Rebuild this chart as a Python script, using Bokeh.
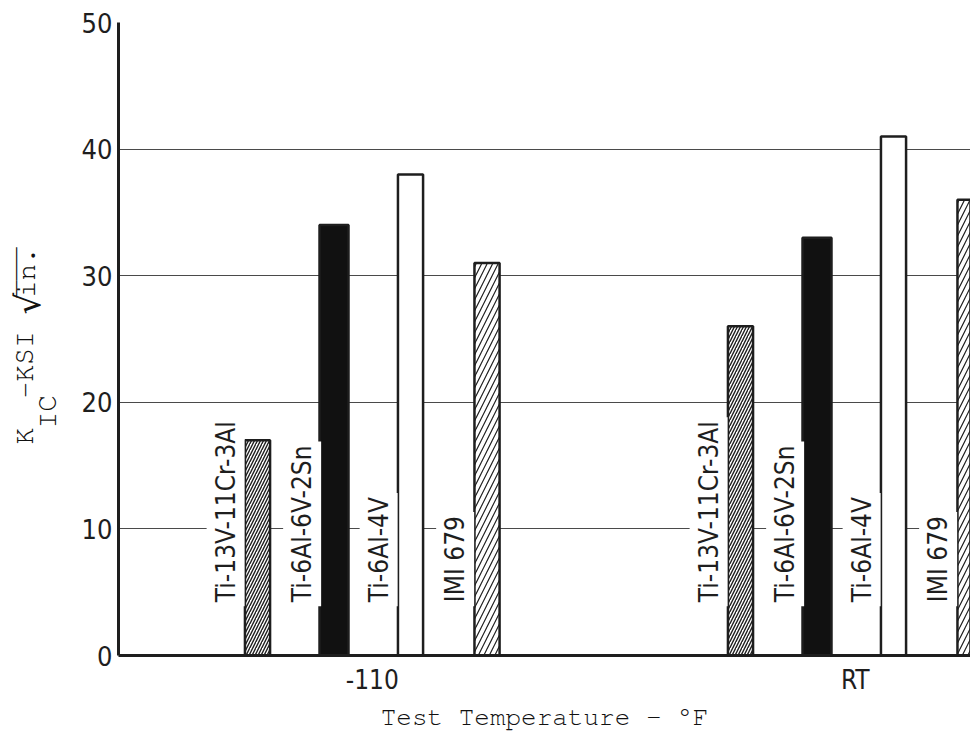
import math
from bokeh.plotting import figure
from bokeh.layouts import row
from bokeh.models import FixedTicker, Range1d
from bokeh.core.properties import value
from bokeh.embed import file_html
from bokeh.resources import INLINE

# ---- data ----
temps = ["-110", "RT"]
alloys = ["Ti-13V-11Cr-3Al", "Ti-6Al-6V-2Sn", "Ti-6Al-4V", "IMI 679"]
kic_ti13v = [17, 26]
kic_ti6al6v = [34, 33]
kic_ti6al4v = [38, 41]
kic_imi679 = [31, 36]
series = [kic_ti13v, kic_ti6al6v, kic_ti6al4v, kic_imi679]
y_ticks = [0, 10, 20, 30, 40, 50]
x_title = "Test Temperature - \u00b0F"

# ---- styles ----
spacing = 0.1584
label_shift = -0.066
styles = [
    dict(width=0.052, fill_color="white", hatch_pattern="/", hatch_scale=6, hatch_weight=1.4),
    dict(width=0.060, fill_color="#111111"),
    dict(width=0.052, fill_color="white"),
    dict(width=0.052, fill_color="white", hatch_pattern="/", hatch_scale=11, hatch_weight=1.2),
]

NARROW = "DejaVu Sans Condensed, Liberation Sans Narrow, Roboto"
MONO = "Nimbus Mono PS, FreeMono, Courier New, Liberation Mono"
INK = "#1e1e1e"
FRAME_TOP, FRAME_BOTTOM = 22, 655
LEFT_W = 76

p = figure(frame_width=852, frame_height=FRAME_BOTTOM - FRAME_TOP,
           x_range=(-0.5254, 1.2386), y_range=(0, 50),
           output_backend="svg", toolbar_location=None,
           min_border_left=118 - LEFT_W, min_border_right=0, min_border_top=FRAME_TOP,
           min_border_bottom=71)
p.outline_line_color = None
p.background_fill_color = "white"

p.xgrid.grid_line_color = None
p.ygrid.grid_line_color = "#4a4a4a"
p.ygrid.grid_line_width = 1.1
p.ygrid.ticker = FixedTicker(ticks=y_ticks)

p.yaxis.ticker = FixedTicker(ticks=y_ticks)
p.yaxis.axis_line_width = 3
p.yaxis.axis_line_color = INK
p.yaxis.major_tick_out = 0
p.yaxis.major_tick_in = 0
p.yaxis.minor_tick_out = 0
p.yaxis.minor_tick_in = 0
p.yaxis.major_label_standoff = 6
p.yaxis.major_label_text_font = NARROW
p.yaxis.major_label_text_font_size = "27px"
p.yaxis.major_label_text_color = INK

p.xaxis.ticker = FixedTicker(ticks=list(range(len(temps))))
p.xaxis.major_label_overrides = {i: t for i, t in enumerate(temps)}
p.xaxis.axis_line_width = 3
p.xaxis.axis_line_color = INK
p.xaxis.major_tick_out = 0
p.xaxis.major_tick_in = 0
p.xaxis.minor_tick_out = 0
p.xaxis.minor_tick_in = 0
p.xaxis.major_label_standoff = 9
p.xaxis.major_label_text_font = NARROW
p.xaxis.major_label_text_font_size = "26px"
p.xaxis.major_label_text_color = INK
p.xaxis.axis_label = x_title
p.xaxis.axis_label_text_font = MONO
p.xaxis.axis_label_text_font_style = "normal"
p.xaxis.axis_label_text_font_size = "26px"
p.xaxis.axis_label_text_color = "#111111"
p.xaxis.axis_label_standoff = 6

for i, (vals, st) in enumerate(zip(series, styles)):
    xs = [g + (i - 1.5) * spacing for g in range(len(temps))]
    kw = dict(st)
    w = kw.pop("width")
    p.vbar(x=xs, top=vals, bottom=0, width=w, line_color=INK, line_width=2.5,
           hatch_color=INK, **kw)
    p.text(x=[x + label_shift for x in xs], y=[3.9] * len(xs), text=[alloys[i]] * len(xs),
           angle=math.pi / 2, text_align="left", text_baseline="middle",
           text_font=value(NARROW), text_font_size="26px", text_color=INK,
           background_fill_color="white", padding=4)

# ---- left strip holding the y-axis title (pixel space of the page, y downwards) ----
t = figure(frame_width=LEFT_W, frame_height=FRAME_BOTTOM - FRAME_TOP,
           x_range=Range1d(0, LEFT_W), y_range=Range1d(FRAME_BOTTOM, FRAME_TOP),
           output_backend="svg", toolbar_location=None, x_axis_type=None, y_axis_type=None,
           min_border_left=0, min_border_right=0, min_border_top=FRAME_TOP,
           min_border_bottom=71)
t.outline_line_color = None
t.xgrid.visible = False
t.ygrid.visible = False

def ytitle(text, x, y, size, font=MONO):
    t.text(x=[x], y=[y], text=[text], angle=math.pi / 2, text_align="left",
           text_baseline="alphabetic", text_font=value(font), text_font_size=size,
           text_color="#111111")

ytitle("K", 24, 444, "28px")
ytitle("IC", 47, 428, "28px")
ytitle("-KSI", 24, 398, "28px")
ytitle("\u221a", 27, 314, "34px", font="DejaVu Sans")
ytitle("in.", 26, 297, "28px")
ytitle("\u203e\u203e\u203e", 26, 297, "28px")

layout = row(t, p, spacing=0)
open("out.html", "w").write(file_html(layout, INLINE))
